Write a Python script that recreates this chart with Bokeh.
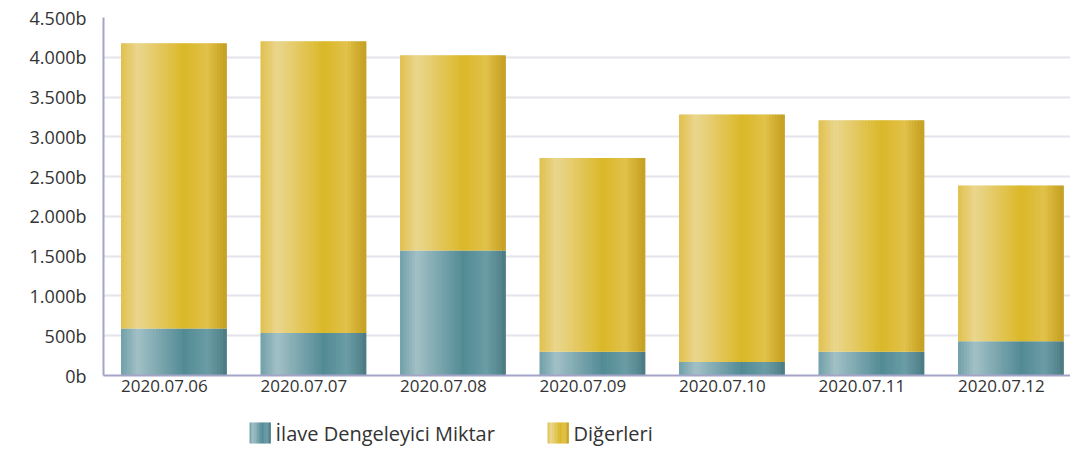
from bokeh.plotting import figure
from bokeh.models import Range1d, FixedTicker, ColumnDataSource
from bokeh.layouts import column
from bokeh.core.properties import value
from bokeh.embed import file_html
from bokeh.resources import INLINE

# ---- data ----
dates = ["2020.07.06", "2020.07.07", "2020.07.08", "2020.07.09", "2020.07.10", "2020.07.11", "2020.07.12"]
ilave = [590, 535, 1570, 300, 170, 300, 430]          # İlave Dengeleyici Miktar
digerleri = [3585, 3665, 2455, 2435, 3110, 2910, 1958]  # Diğerleri
y_ticks = [0, 500, 1000, 1500, 2000, 2500, 3000, 3500, 4000, 4500]
y_labels = ["0b", "500b", "1.000b", "1.500b", "2.000b", "2.500b", "3.000b", "3.500b", "4.000b", "4.500b"]
series_names = ["İlave Dengeleyici Miktar", "Diğerleri"]

# ---- styling ----
BAR_W = 0.753
BAR_SHIFT = 0.068
N_STRIPS = 36

teal_stops = [(0.0, (112, 160, 168)), (0.16, (162, 192, 198)), (0.6, (82, 139, 149)),
              (0.82, (106, 156, 165)), (0.94, (88, 137, 145)), (1.0, (74, 120, 128))]
gold_stops = [(0.0, (224, 192, 76)), (0.16, (234, 214, 142)), (0.6, (219, 184, 40)),
              (0.82, (225, 193, 74)), (0.94, (206, 170, 42)), (1.0, (196, 160, 38))]


def grad(stops, t):
    for (t0, c0), (t1, c1) in zip(stops[:-1], stops[1:]):
        if t0 <= t <= t1:
            f = (t - t0) / (t1 - t0) if t1 > t0 else 0
            c = [round(a + (b - a) * f) for a, b in zip(c0, c1)]
            return "#%02x%02x%02x" % tuple(c)
    c = stops[-1][1]
    return "#%02x%02x%02x" % c


p = figure(width=1070, height=410, output_backend="svg", toolbar_location=None,
           x_range=Range1d(-0.437, 6.495), y_range=Range1d(0, 4500),
           min_border_left=103, min_border_right=0, min_border_top=17, min_border_bottom=35)
p.outline_line_color = None
p.background_fill_color = "white"
p.border_fill_color = "white"


def draw_series(bottoms, tops, stops):
    xs, bs, ts, cs = [], [], [], []
    sw = BAR_W / N_STRIPS
    for i in range(len(dates)):
        for k in range(N_STRIPS):
            t = (k + 0.5) / N_STRIPS
            xs.append(i + BAR_SHIFT - BAR_W / 2 + (k + 0.5) * sw)
            bs.append(bottoms[i])
            ts.append(tops[i])
            cs.append(grad(stops, t))
    src = ColumnDataSource(dict(x=xs, bottom=bs, top=ts, color=cs))
    p.vbar(x="x", bottom="bottom", top="top", width=sw * 1.3, source=src,
           fill_color="color", line_color=None)


tops_teal = ilave
tops_gold = [a + b for a, b in zip(ilave, digerleri)]
draw_series([0] * len(dates), tops_teal, teal_stops)
draw_series(tops_teal, tops_gold, gold_stops)

# axes
p.xaxis.ticker = FixedTicker(ticks=list(range(len(dates))))
p.xaxis.major_label_overrides = {i: d for i, d in enumerate(dates)}
p.xaxis.major_tick_line_color = None
p.xaxis.minor_tick_line_color = None
p.xaxis.major_tick_out = 0
p.xaxis.major_label_standoff = 4
p.xaxis.major_label_text_font = "Open Sans"
p.xaxis.major_label_text_font_size = "17px"
p.xaxis.major_label_text_color = "#333333"
p.xaxis.axis_line_color = "#a4a4c8"
p.xaxis.axis_line_width = 2

p.yaxis.ticker = FixedTicker(ticks=y_ticks)
p.yaxis.major_label_overrides = {t: l for t, l in zip(y_ticks, y_labels)}
p.yaxis.major_tick_line_color = None
p.yaxis.minor_tick_line_color = None
p.yaxis.major_tick_out = 0
p.yaxis.major_label_standoff = 17
p.yaxis.major_label_text_font = "Open Sans"
p.yaxis.major_label_text_font_size = "18px"
p.yaxis.major_label_text_color = "#333333"
p.yaxis.axis_line_color = "#a4a4c8"
p.yaxis.axis_line_width = 2

p.xgrid.grid_line_color = None
p.ygrid.grid_line_color = "#e4e4ec"
p.ygrid.grid_line_width = 2

# ---- legend strip (separate figure; its frame is aligned with the main frame) ----
lg = figure(width=1070, height=41, output_backend="svg", toolbar_location=None,
            x_range=Range1d(103, 1070), y_range=Range1d(41, 0),
            x_axis_type=None, y_axis_type=None,
            min_border_left=103, min_border_right=0, min_border_top=0, min_border_bottom=0)
lg.outline_line_color = None
lg.xgrid.visible = False
lg.ygrid.visible = False

swatch_x = [249, 547]
SW = 21
SW_TOP, SW_BOT = 12, 33
n_sw = 14
for sx, stops in zip(swatch_x, [teal_stops, gold_stops]):
    lefts = [sx + SW * k / n_sw for k in range(n_sw)]
    rights = [sx + SW * (k + 1) / n_sw + 0.4 for k in range(n_sw)]
    cols = [grad(stops, (k + 0.5) / n_sw) for k in range(n_sw)]
    lg.quad(left=lefts, right=rights, top=[SW_TOP] * n_sw, bottom=[SW_BOT] * n_sw,
            fill_color=cols, line_color=None)

lg.text(x=[sx + SW + 5 for sx in swatch_x], y=[22.5, 22.5], text=series_names,
        text_font=value("Open Sans"), text_font_size="20px", text_color="#333333",
        text_align="left", text_baseline="middle")

open("out.html", "w").write(file_html(column(p, lg, spacing=0), INLINE))
